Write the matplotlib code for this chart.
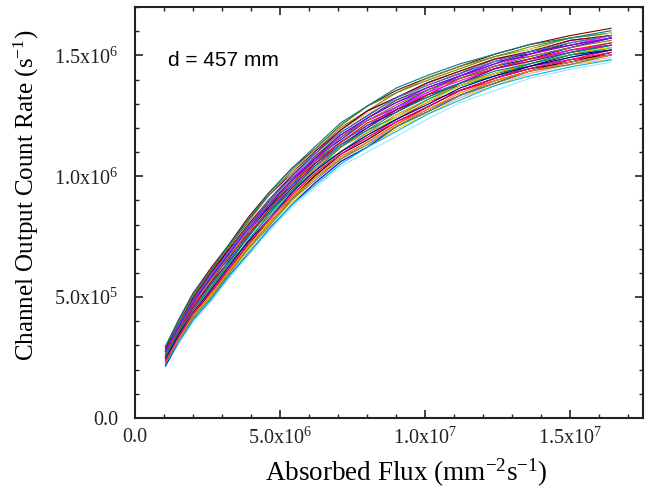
import matplotlib
matplotlib.use('Agg')
import matplotlib.pyplot as plt
from matplotlib.ticker import FixedLocator, MultipleLocator

# ---------------- data ----------------
flux_1e6 = [1.05, 1.5, 2.0, 2.6, 3.2, 3.9, 4.6, 5.4, 6.2, 7.1, 8.0, 9.0,
            10.1, 11.2, 12.4, 13.6, 15.0, 16.4]
mean_rate_1e5 = [2.55, 3.55, 4.56, 5.48, 6.42, 7.50, 8.50, 9.52, 10.42, 11.32,
                 12.00, 12.65, 13.28, 13.85, 14.35, 14.75, 15.12, 15.42]
# per-channel deviation from the mean curve, units of 1e4 s^-1
channel_dev_1e4 = [
    [2, 3, 3, 4, 5, 4, 5, 4, 3, 5, 5, 6, 5, 4, 5, 3, 4, 4],
    [-2, -3, -3, -2, -4, -4, -3, -5, -4, -5, -6, -5, -4, -3, -4, -4, -3, -4],
    [0, 0, 1, 0, -1, 0, 1, 1, 0, -1, 0, 1, 1, 0, -1, 0, 1, 0],
    [1, 1, 2, 3, 1, 2, 2, 1, 3, 2, 3, 2, 3, 2, 2, 1, 2, 3],
    [-1, -1, -2, -2, -3, -1, -2, -2, -1, -3, -2, -3, -2, -1, -2, -3, -2, -1],
    [-2, -2, -2, -3, -2, -2, -1, -1, 0, -1, 1, 1, 2, 3, 2, 3, 3, 4],
    [-3, -4, -4, -5, -6, -6, -5, -6, -7, -7, -8, -7, -7, -6, -6, -5, -5, -6],
    [3, 4, 5, 5, 6, 6, 7, 6, 6, 7, 7, 8, 7, 6, 6, 5, 6, 5],
    [2, 2, 3, 3, 4, 3, 2, 3, 2, 1, 1, 0, 1, -1, -1, -2, -1, -2],
    [4, 4, 5, 6, 6, 7, 7, 6, 6, 6, 7, 6, 6, 5, 5, 4, 5, 4],
    [4, 5, 6, 7, 7, 8, 8, 8, 7, 8, 9, 9, 8, 7, 7, 7, 7, 7],
    [3, 4, 5, 6, 6, 7, 7, 7, 7, 8, 9, 8, 8, 7, 6, 6, 6, 5],
    [4, 5, 6, 6, 7, 7, 8, 8, 8, 9, 9, 10, 9, 8, 7, 7, 6, 6],
    [0, 1, 1, 1, 0, 1, 0, 1, 2, 1, 1, 2, 1, 0, 1, 1, 0, 1],
    [0, -1, 0, -1, -1, -2, -1, 0, -1, -1, -2, -1, -1, 0, -1, -1, -1, 0],
    [1, 2, 2, 3, 3, 4, 3, 3, 2, 3, 4, 4, 3, 3, 4, 2, 2, 3],
    [-1, -2, -2, -2, -3, -3, -4, -3, -3, -3, -4, -3, -2, -3, -3, -2, -3, -2],
    [2, 3, 4, 4, 4, 5, 5, 6, 5, 6, 6, 5, 5, 5, 4, 5, 4, 4],
    [-2, -3, -4, -4, -5, -5, -5, -5, -6, -6, -6, -6, -5, -5, -4, -4, -5, -4],
    [1, 1, 1, 2, 2, 3, 3, 3, 4, 5, 6, 6, 5, 5, 5, 5, 4, 5],
    [-4, -5, -6, -7, -7, -8, -8, -8, -9, -9, -10, -10, -9, -8, -8, -7, -7, -7],
    [-1, -1, -1, -2, -2, -3, -3, -4, -4, -5, -6, -6, -6, -6, -5, -5, -5, -5],
    [2, 2, 3, 3, 3, 4, 4, 3, 4, 4, 4, 5, 4, 3, 3, 4, 3, 3],
    [-2, -2, -3, -3, -4, -3, -4, -4, -4, -4, -5, -4, -4, -3, -3, -3, -4, -3],
    [1, 1, 1, 1, 2, 1, 1, 2, 1, 1, 2, 1, 1, 2, 1, 1, 1, 1],
    [-1, -1, -1, -1, -1, -2, -1, -1, -2, -1, -1, -2, -1, -1, -2, -1, -1, -1],
    [-4, -4, -5, -6, -6, -7, -7, -7, -7, -7, -8, -6, -6, -5, -5, -4, -4, -4],
    [-3, -4, -5, -6, -6, -7, -7, -7, -8, -8, -8, -8, -7, -7, -6, -6, -6, -6],
    [2, 3, 4, 4, 4, 4, 5, 4, 3, 3, 3, 2, 2, 1, 1, 0, 1, 0],
    [-2, -3, -4, -4, -4, -4, -4, -4, -3, -3, -3, -2, -2, -1, -1, 0, 0, -1],
    [1, 1, 2, 2, 2, 2, 3, 2, 2, 3, 3, 3, 3, 2, 2, 2, 2, 2],
    [-1, -1, -2, -2, -2, -2, -3, -2, -2, -3, -3, -3, -3, -2, -2, -2, -2, -2],
    [0, 0, 0, 1, 0, 0, 0, 0, 1, 0, 0, 1, 0, 0, 1, 0, 0, 0],
    [3, 3, 4, 5, 5, 5, 5, 5, 5, 6, 7, 6, 6, 5, 5, 4, 5, 4],
    [-3, -3, -4, -5, -5, -5, -6, -5, -5, -6, -7, -6, -6, -5, -5, -4, -5, -4],
    [0, 0, -1, 0, 0, 0, 0, -1, 0, 0, -1, 0, 0, 0, 0, -1, 0, 0],
    [2, 3, 3, 4, 4, 4, 5, 4, 5, 5, 5, 6, 5, 4, 4, 4, 4, 4],
    [-2, -3, -3, -4, -4, -4, -5, -4, -5, -5, -6, -5, -5, -4, -4, -4, -4, -4],
    [2, 2, 2, 3, 3, 3, 3, 3, 3, 4, 4, 4, 4, 3, 3, 3, 3, 3],
    [-2, -2, -2, -3, -3, -3, -3, -3, -3, -4, -4, -4, -4, -3, -3, -3, -3, -3],
]

x_ticks = [0, 5e6, 1e7, 1.5e7]
x_tick_labels = ['0.0', r'5.0x10$^{6}$', r'1.0x10$^{7}$', r'1.5x10$^{7}$']
y_ticks = [0, 5e5, 1e6, 1.5e6]
y_tick_labels = ['0.0', r'5.0x10$^{5}$', r'1.0x10$^{6}$', r'1.5x10$^{6}$']

palette = ['#000000', '#FF0000', '#00A651', '#0000FF', '#00B7EB', '#FF00FF',
           '#E6D800', '#808000', '#000080', '#800080', '#800000', '#6B8E23',
           '#008080', '#4169E1', '#FF8000', '#8000FF', '#FF0080', '#B0B0B0',
           '#808080', '#F0E68C', '#9BE7F5', '#F5A9F5', '#404040']

# ---------------- style ----------------
plt.rcParams['mathtext.fontset'] = 'custom'
plt.rcParams['mathtext.rm'] = 'Liberation Serif'
plt.rcParams['mathtext.it'] = 'Liberation Serif:italic'
plt.rcParams['mathtext.bf'] = 'Liberation Serif:bold'
serif = 'Liberation Serif'

fig = plt.figure(figsize=(6.51, 4.95), dpi=100)
W, H = 651, 495
ax = fig.add_axes([135 / W, 1 - 418 / H, 508 / W, 411 / H])

flux = [f * 1e6 for f in flux_1e6]
for i, dev in enumerate(channel_dev_1e4):
    rate = [m * 1e5 + d * 1e4 for m, d in zip(mean_rate_1e5, dev)]
    ax.plot(flux, rate, color=palette[i % len(palette)], lw=0.8)

ax.set_xlim(0, 1.75e7)
ax.set_ylim(0, 1.70e6)

ax.xaxis.set_major_locator(FixedLocator(x_ticks))
ax.yaxis.set_major_locator(FixedLocator(y_ticks))
ax.xaxis.set_minor_locator(MultipleLocator(1e6))
ax.yaxis.set_minor_locator(MultipleLocator(1e5))
ax.set_xticklabels(x_tick_labels, fontfamily=serif, fontsize=14.5)
ax.set_yticklabels(y_tick_labels, fontfamily=serif, fontsize=14.5)

ax.tick_params(which='both', direction='in', top=True, right=True,
               colors='#222222')
ax.tick_params(which='major', length=6, width=1.2)
ax.tick_params(which='minor', length=3, width=1.0)
ax.tick_params(axis='y', which='major', pad=12)
ax.tick_params(axis='x', which='major', pad=7)
for s in ax.spines.values():
    s.set_linewidth(1.5)
    s.set_color('#222222')

ax.set_xlabel(r'Absorbed Flux (mm$^{\mathrm{-2}}$s$^{\mathrm{-1}}$)',
              fontfamily=serif, fontsize=19.5)
ax.set_ylabel(r'Channel Output Count Rate (s$^{\mathrm{-1}}$)',
              fontfamily=serif, fontsize=18)
ax.xaxis.set_label_coords(0.533, -0.134)
ax.yaxis.set_label_coords(-0.213, 0.541)
ax.xaxis.label.set_va('center')
ax.yaxis.label.set_va('center')

ax.text(0.065, 0.871, 'd = 457 mm', transform=ax.transAxes,
        fontfamily='Liberation Sans', fontsize=15, ha='left', va='center')

fig.savefig('out.png', dpi=100)
